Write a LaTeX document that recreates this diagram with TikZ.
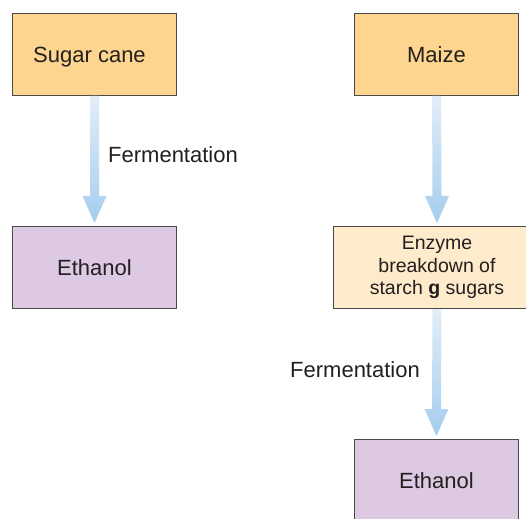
\documentclass[tikz,border=0pt]{standalone}
\usepackage{fontspec}
\setmainfont{Liberation Sans}
\usetikzlibrary{calc}
\definecolor{boxorange}{HTML}{FDD58E}
\definecolor{boxpale}{HTML}{FEEBCB}
\definecolor{boxpurple}{HTML}{DDC9E2}
\definecolor{boxedge}{HTML}{4A4A4A}
\definecolor{arrtop}{HTML}{E2EDF8}
\definecolor{arrbot}{HTML}{A4CDEE}
\definecolor{txt}{HTML}{231F20}
\tikzset{
  box/.style={draw=boxedge, line width=1pt, minimum width=164pt, minimum height=82pt,
    inner sep=0pt, anchor=north west, font=\fontsize{22}{26}\selectfont, text=txt, align=center},
  lbl/.style={font=\fontsize{22}{26}\selectfont, text=txt, inner sep=0pt, anchor=west},
}
\newcommand{\flowarrow}[2]{%
  \shade[top color=arrtop, bottom color=arrbot]
    ($(#1.south)+(-4.5,0)$) -- ($(#1.south)+(4.5,0)$) --
    ($(#2.north)+(4.5,-30)$) -- ($(#2.north)+(12,-30)$) --
    ($(#2.north)+(0,-3)$) --
    ($(#2.north)+(-12,-30)$) -- ($(#2.north)+(-4.5,-30)$) -- cycle;}
\begin{document}
\begin{tikzpicture}[x=1pt,y=-1pt]
\useasboundingbox (0,0) rectangle (526,518);
\begin{scope}
\clip (0,0) rectangle (526,518);
\node[box, fill=boxorange, text depth=0pt] (sc) at (12,13) {\hspace*{-10pt}Sugar cane};
\node[box, fill=boxpurple] (e1) at (12,226) {Ethanol};
\node[box, fill=boxorange] (mz) at (354,13) {Maize};
\node[box, fill=boxpale, minimum width=207pt, font=\fontsize{19.5}{22.5}\selectfont] (enz) at (333,226)
  {Enzyme\\breakdown of\\starch \textbf{g} sugars};
\node[box, fill=boxpurple] (e2) at (354,439) {Ethanol};
\end{scope}
\flowarrow{sc}{e1}
\flowarrow{mz}{enz}
\flowarrow{enz}{e2}
\node[lbl] (f1) at (108,155) {Fermentation};
\node[lbl] (f2) at (290,370) {Fermentation};
\end{tikzpicture}
\end{document}
